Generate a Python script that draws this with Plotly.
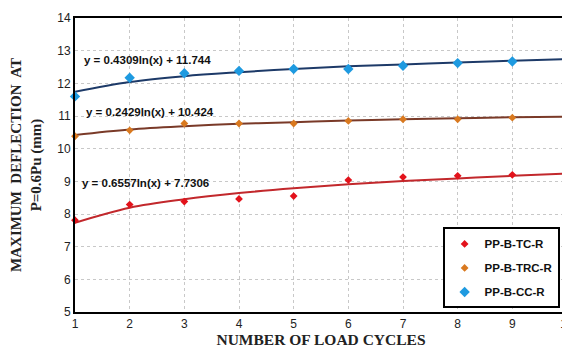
import plotly.graph_objects as go

cycles = [1, 2, 3, 4, 5, 6, 7, 8, 9, 10]

tc_vals = [7.81, 8.29, 8.38, 8.46, 8.55, 9.04, 9.13, 9.17, 9.20, 9.22]
trc_vals = [10.38, 10.56, 10.77, 10.77, 10.77, 10.85, 10.90, 10.90, 10.95, 10.99]
cc_vals = [11.60, 12.17, 12.31, 12.38, 12.44, 12.44, 12.54, 12.62, 12.67, 12.68]

# trendline values at each cycle
tc_trend = [7.73, 8.19, 8.45, 8.64, 8.79, 8.91, 9.01, 9.09, 9.17, 9.24]
trc_trend = [10.42, 10.59, 10.69, 10.76, 10.81, 10.86, 10.90, 10.93, 10.96, 10.98]
cc_trend = [11.74, 12.04, 12.22, 12.34, 12.44, 12.52, 12.58, 12.64, 12.69, 12.74]

names = ["PP-B-TC-R", "PP-B-TRC-R", "PP-B-CC-R"]
equations = ["y = 0.6557ln(x) + 7.7306", "y = 0.2429ln(x) + 10.424", "y = 0.4309ln(x) + 11.744"]
eq_pos_x = [1.09, 1.16, 1.13]
eq_pos_y = [8.95, 11.12, 12.72]

marker_colors = ["#e3121b", "#d9791f", "#1e9ae0"]
line_colors = ["#c2282c", "#7a3a28", "#1d3a68"]
marker_sizes = [6, 6, 8]

fig = go.Figure()
series = [tc_vals, trc_vals, cc_vals]
trends = [tc_trend, trc_trend, cc_trend]

for i in range(3):
    fig.add_trace(go.Scatter(
        x=cycles, y=trends[i], mode="lines", line=dict(color=line_colors[i], width=2, shape="spline"),
        showlegend=False, hoverinfo="skip", cliponaxis=False))
for i in range(3):
    fig.add_trace(go.Scatter(
        x=cycles, y=series[i], mode="markers", name=names[i],
        marker=dict(symbol="diamond", size=marker_sizes[i], color=marker_colors[i]),
        cliponaxis=False, legendgroup=names[i]))

for i in range(3):
    fig.add_annotation(x=eq_pos_x[i], y=eq_pos_y[i], text="<b>" + equations[i] + "</b>", showarrow=False,
                       xanchor="left", yanchor="middle",
                       font=dict(family="Liberation Sans, Arial", size=11.5, color="#111"))

grid = dict(showgrid=True, gridcolor="#c8c8c8", griddash="dot", gridwidth=1)
fig.update_xaxes(range=[1, 10], dtick=1, tick0=1, **grid, zeroline=False, automargin=False,
                 showline=True, linecolor="black", linewidth=2, mirror=True, ticks="",
                 ticklabeloverflow="allow",
                 tickfont=dict(family="Liberation Sans, Arial", size=12, color="#222"),
                 title=dict(text="<b>NUMBER OF LOAD CYCLES</b>", standoff=4,
                            font=dict(family="Liberation Serif, Times New Roman", size=15.5, color="#222")))
fig.update_yaxes(range=[5, 14], dtick=1, **grid, zeroline=False, automargin=False,
                 showline=True, linecolor="black", linewidth=2, mirror=True, ticks="",
                 tickfont=dict(family="Liberation Sans, Arial", size=12, color="#222"),
                 title=dict(text="<b>MAXIMUM  DEFLECTION  AT</b><br><b>P=0.6Pu (mm)</b>", standoff=12,
                            font=dict(family="Liberation Serif, Times New Roman", size=15, color="#222")))
fig.update_layout(
    width=562, height=353,
    margin=dict(l=67, r=3, t=10, b=49),
    plot_bgcolor="white", paper_bgcolor="white",
    legend=dict(x=0.985, y=0.012, xanchor="right", yanchor="bottom",
                bordercolor="black", borderwidth=2, bgcolor="white",
                font=dict(family="Liberation Sans, Arial", size=11.5, color="#111", weight="bold"),
                tracegroupgap=5, itemwidth=30),
)
fig.write_html("out.html")
